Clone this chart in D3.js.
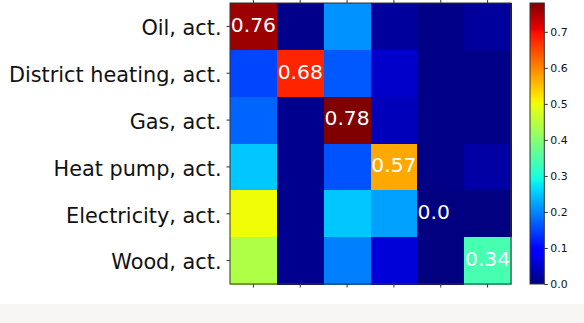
<!DOCTYPE html>
<html><head><meta charset="utf-8">
<script src="https://cdn.jsdelivr.net/npm/d3@7"></script>
<style>html,body{margin:0;padding:0;background:#fff;}svg{display:block;font-family:"DejaVu Sans",sans-serif;}</style>
</head><body>
<script>
const rowLabels = ["Oil, act.","District heating, act.","Gas, act.","Heat pump, act.","Electricity, act.","Wood, act."];
const colKeys = ["c0","c1","c2","c3","c4","c5"];
const values = [
  [0.76, 0.008, 0.21, 0.02, 0.005, 0.02],
  [0.15, 0.68, 0.165, 0.05, 0.005, 0.005],
  [0.175, 0.01, 0.78, 0.04, 0.005, 0.005],
  [0.25, 0.01, 0.16, 0.57, 0.005, 0.025],
  [0.50, 0.01, 0.25, 0.22, 0.0, 0.0],
  [0.44, 0.01, 0.195, 0.06, 0.0, 0.34]
];
const annotations = ["0.76","0.68","0.78","0.57","0.0","0.34"];
const cbTicks = [0.0,0.1,0.2,0.3,0.4,0.5,0.6,0.7];

const W = 584, H = 323;
const svg = d3.select("body").append("svg").attr("width", W).attr("height", H);

// bottom light band
svg.append("rect").attr("x",0).attr("y",304).attr("width",W).attr("height",H-304).attr("fill","#f8f5f5");

const vmax = d3.max(values.flat());
const jr = d3.scaleLinear().domain([0,0.35,0.66,0.89,1]).range([0,0,1,1,0.5]).clamp(true);
const jg = d3.scaleLinear().domain([0,0.125,0.375,0.64,0.91,1]).range([0,0,1,1,0,0]).clamp(true);
const jb = d3.scaleLinear().domain([0,0.11,0.34,0.65,1]).range([0.5,1,1,0,0]).clamp(true);
const norm = d3.scaleLinear().domain([0, vmax]).range([0,1]).clamp(true);
function jet(v){ const t = norm(v); return d3.rgb(jr(t)*255, jg(t)*255, jb(t)*255).formatHex(); }

const x = d3.scaleBand().domain(colKeys).range([230, 511]);
const y = d3.scaleBand().domain(rowLabels).range([3, 284]);

const cells = [];
values.forEach((row,i)=>row.forEach((v,j)=>cells.push({r:rowLabels[i], c:colKeys[j], v, i, j})));

svg.append("g").attr("shape-rendering","crispEdges").selectAll("rect").data(cells).join("rect")
  .attr("x", d=>x(d.c)).attr("y", d=>y(d.r))
  .attr("width", x.bandwidth()+1).attr("height", y.bandwidth()+1)
  .attr("fill", d=>jet(d.v));

// annotations on diagonal
svg.append("g").selectAll("text").data(annotations).join("text")
  .attr("x", (d,i)=>x(colKeys[i]) + x.bandwidth()/2)
  .attr("y", (d,i)=>y(rowLabels[i]) + y.bandwidth()/2 + 5.4)
  .attr("dx", d=> d==="0.0" ? -7 : 0)
  .attr("text-anchor","middle").attr("fill","#fff")
  .attr("font-size", 20.3).text(d=>d);

// frame
svg.append("rect").attr("x",230).attr("y",3).attr("width",281).attr("height",281)
  .attr("fill","none").attr("stroke","#333").attr("stroke-width",1);

// y axis
const yAxis = svg.append("g").attr("transform","translate(230,0)")
  .call(d3.axisLeft(y).tickSize(3.5).tickPadding(5));
yAxis.select(".domain").remove();
yAxis.selectAll(".tick line").attr("stroke","#333");
yAxis.selectAll(".tick text").attr("font-size",20.8).attr("fill","#111")
  .attr("font-family","DejaVu Sans").attr("dy","0.42em");

// x axis bottom ticks (no labels)
const xb = svg.append("g").attr("transform","translate(0,284)")
  .call(d3.axisBottom(x).tickSize(3.5).tickFormat(""));
xb.select(".domain").remove();
xb.selectAll(".tick line").attr("stroke","#333");
const xt = svg.append("g").attr("transform","translate(0,3)")
  .call(d3.axisTop(x).tickSize(3.5).tickFormat(""));
xt.select(".domain").remove();
xt.selectAll(".tick line").attr("stroke","#333");

// colorbar
const cy = d3.scaleLinear().domain([0, vmax]).range([284, 3]);
const steps = d3.range(0, 200).map(k => k/199*vmax);
const defs = svg.append("defs");
const grad = defs.append("linearGradient").attr("id","cbg").attr("x1",0).attr("y1",1).attr("x2",0).attr("y2",0);
grad.selectAll("stop").data(steps).join("stop")
  .attr("offset", d=>d/vmax).attr("stop-color", d=>jet(d));
svg.append("rect").attr("x",530).attr("y",cy(vmax)).attr("width",14.3).attr("height",cy(0)-cy(vmax))
  .attr("fill","url(#cbg)").attr("stroke","#333").attr("stroke-width",1);
const cax = svg.append("g").attr("transform","translate(544.3,0)")
  .call(d3.axisRight(cy).tickValues(cbTicks).tickFormat(d3.format(".1f")).tickSize(3.5).tickPadding(2.5));
cax.select(".domain").remove();
cax.selectAll(".tick line").attr("stroke","#333");
cax.selectAll(".tick text").attr("font-size",10.9).attr("fill","#111").attr("font-family","DejaVu Sans");
</script>
</body></html>
